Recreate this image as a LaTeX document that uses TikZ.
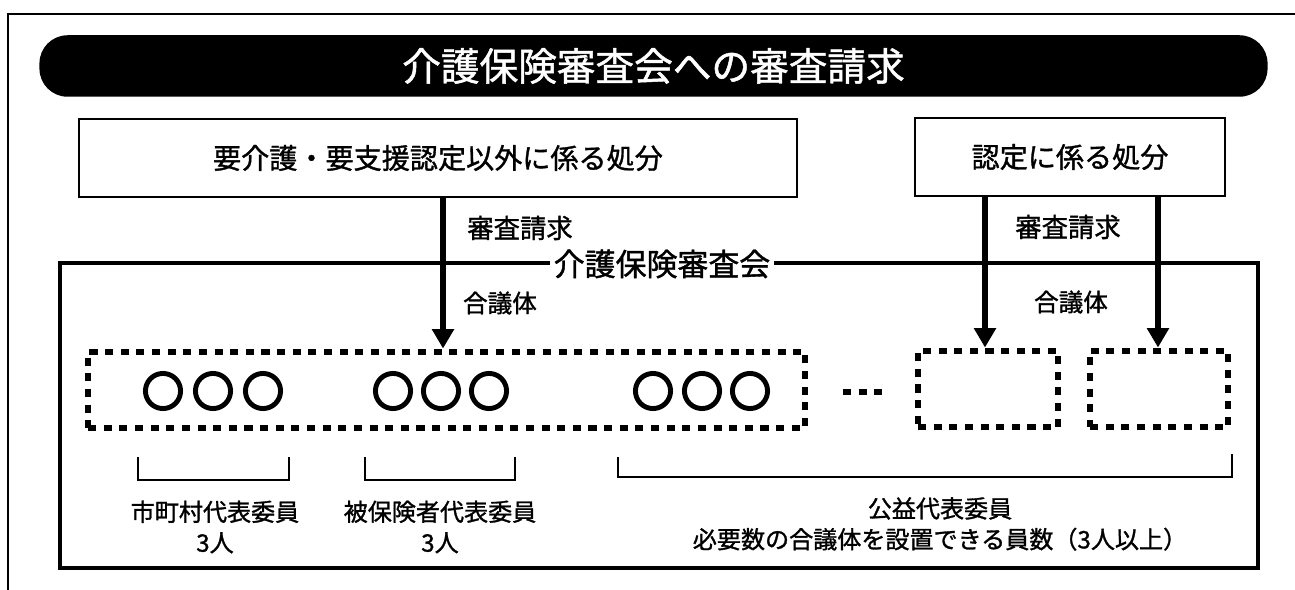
\documentclass[tikz,border=0pt]{standalone}
\usepackage{fontspec}
\setmainfont{Noto Sans CJK JP}[FakeBold=1.2]
\usetikzlibrary{arrows.meta}

\begin{document}
\begin{tikzpicture}[x=0.02cm, y=-0.02cm,
	disposal/.style={draw, line width=1.2pt, minimum height=44pt, inner sep=0pt, font=\fontsize{16}{19}\selectfont},
	panel/.style={draw, line width=3.4pt, dash pattern=on 4.6pt off 4.3pt, minimum height=43.8pt, inner sep=0pt},
	member/.style={draw, circle, line width=2.8pt, minimum size=20pt, inner sep=0pt},
	request/.style={line width=3.4pt, -{Triangle[width=12pt,length=11pt]}},
	bracket/.style={line width=1pt},
	caption/.style={align=center, font=\fontsize{13.7}{17.5}\selectfont}]

	\useasboundingbox (0,0) rectangle (1295,590);
	\draw[line width=0.8pt] (8,590) -- (8,14) -- (1295,14);

	\node[fill=black, text=white, rounded corners=16pt, minimum width=699pt, minimum height=35pt,
		font=\fontsize{22}{26}\selectfont] (title) at (653.5,66) {介護保険審査会への審査請求};

	\node[disposal, minimum width=408.5pt] (reqother) at (438,158) {要介護・要支援認定以外に係る処分};
	\node[disposal, minimum width=176pt] (reqcert) at (1070,157) {認定に係る処分};

	% council frame
	\draw[line width=2.1pt] (60,263) rectangle (1258,568);
	\node[fill=white, inner sep=2pt, font=\fontsize{17.6}{20}\selectfont] (council) at (662,264) {介護保険審査会};

	\node[font=\fontsize{14}{17}\selectfont] (bodyA) at (500,303) {合議体};
	\node[font=\fontsize{14}{17}\selectfont] (bodyB) at (1071,302) {合議体};

	\node[panel, minimum width=408pt] (panelA) at (446.5,390) {};
	\node[panel, minimum width=79.7pt] (panelB) at (988,389) {};
	\node[panel, minimum width=78.5pt] (panelC) at (1159,389) {};
	\draw[panel] (843,392) -- (888,392);

	\foreach \x in {163,213,263, 393,441,489, 653,702,750}
		\node[member] (m\x) at (\x,391) {};

	% requests
	\coordinate (chkA) at (443,0);
	\coordinate (chkB) at (985,0);
	\coordinate (chkC) at (1158,0);
	\draw[request] (reqother.south -| chkA) -- (panelA.north -| chkA);
	\draw[request] (reqcert.south -| chkB) -- (panelB.north -| chkB);
	\draw[request] (reqcert.south -| chkC) -- (panelC.north -| chkC);
	\node[font=\fontsize{15}{18}\selectfont] (askA) at (520,228) {審査請求};
	\node[font=\fontsize{15}{18}\selectfont] (askB) at (1068,227) {審査請求};

	% members
	\draw[bracket] (138,457) |- (289,480) -- (289,457);
	\draw[bracket] (365,457) |- (515,480) -- (515,457);
	\draw[bracket] (618,457) |- (1232,477) -- (1232,454);
	\node[caption] (munic) at (215,527) {市町村代表委員\\3人};
	\node[caption] (insured) at (440,527) {被保険者代表委員\\3人};
	\node[caption] (public) at (940,524) {公益代表委員\\必要数の合議体を設置できる員数（3人以上）};

\end{tikzpicture}
\end{document}
